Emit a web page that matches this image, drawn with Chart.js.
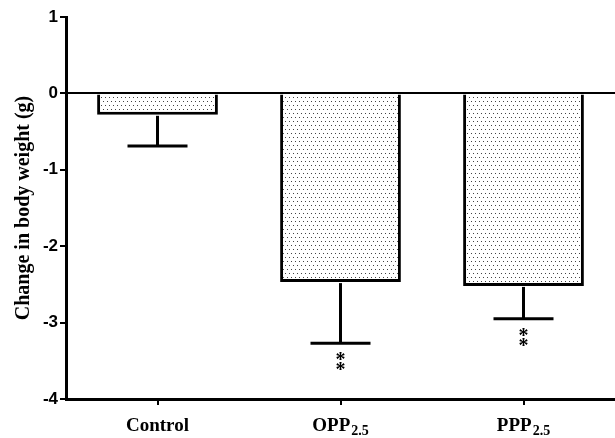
<!DOCTYPE html>
<html><head><meta charset="utf-8">
<script src="https://cdn.jsdelivr.net/npm/chart.js@4"></script>
<style>html,body{margin:0;padding:0;background:#fff}#wrap{width:615px;height:438px;position:relative}</style>
</head><body><div id="wrap"><canvas id="c"></canvas></div>
<script>
const categories = ['Control', 'OPP', 'PPP'];
const subscripts = ['', '2.5', '2.5'];
const means = [-0.28, -2.47, -2.52];
const errors = [0.41, 0.80, 0.43];
const significance = ['', '**', '**'];
const yTicks = [1, 0, -1, -2, -3, -4];

function makePattern() {
  const p = document.createElement('canvas');
  p.width = 8; p.height = 8;
  const g = p.getContext('2d');
  g.fillStyle = '#fff'; g.fillRect(0, 0, 8, 8);
  g.fillStyle = '#444';
  g.fillRect(1, 1, 1, 1); g.fillRect(5, 1, 1, 1);
  g.fillRect(3, 5, 1, 1); g.fillRect(7, 5, 1, 1);
  return document.getElementById('c').getContext('2d').createPattern(p, 'repeat');
}

const extrasPlugin = {
  id: 'extras',
  afterDatasetsDraw(chart) {
    const ctx = chart.ctx, xs = chart.scales.x, ys = chart.scales.y;
    ctx.save();
    ctx.strokeStyle = '#000'; ctx.lineWidth = 3; ctx.lineCap = 'butt';
    means.forEach((m, i) => {
      const x = xs.getPixelForValue(i);
      const y0 = ys.getPixelForValue(m);
      const y1 = ys.getPixelForValue(m - errors[i]);
      ctx.beginPath(); ctx.moveTo(x, y0 + 1); ctx.lineTo(x, y1); ctx.stroke();
      ctx.beginPath(); ctx.moveTo(x - 30, y1); ctx.lineTo(x + 30, y1); ctx.stroke();
      if (significance[i]) {
        ctx.fillStyle = '#000';
        ctx.font = 'bold 20px "Liberation Serif"';
        ctx.textAlign = 'center'; ctx.textBaseline = 'top';
        ctx.fillText('*', x, y1 + 8);
        ctx.fillText('*', x, y1 + 18);
      }
    });
    ctx.fillStyle = '#000'; ctx.textBaseline = 'alphabetic'; ctx.textAlign = 'left';
    categories.forEach((c, i) => {
      const x = xs.getPixelForValue(i);
      ctx.font = 'bold 19px "Liberation Serif"';
      const w1 = ctx.measureText(c).width;
      ctx.font = 'bold 14px "Liberation Serif"';
      const w2 = subscripts[i] ? ctx.measureText(subscripts[i]).width + 1 : 0;
      const start = x - (w1 + w2) / 2;
      ctx.font = 'bold 19px "Liberation Serif"';
      ctx.fillText(c, start, 431);
      if (subscripts[i]) {
        ctx.font = 'bold 14px "Liberation Serif"';
        ctx.fillText(subscripts[i], start + w1 + 1, 435);
      }
    });
    ctx.restore();
  }
};

new Chart(document.getElementById('c'), {
  type: 'bar',
  data: {
    labels: categories,
    datasets: [{
      data: means,
      backgroundColor: makePattern(),
      borderColor: '#000',
      borderWidth: 3,
      borderSkipped: 'start',
      barPercentage: 0.66,
      categoryPercentage: 1
    }]
  },
  options: {
    responsive: true,
    maintainAspectRatio: false,
    animation: false,
    layout: { padding: { top: 17, right: 0, bottom: 0, left: 0 } },
    plugins: { legend: { display: false }, tooltip: { enabled: false } },
    scales: {
      x: {
        offset: true,
        grid: { display: true, drawOnChartArea: false, drawTicks: true, tickLength: 6, color: '#000', lineWidth: 2, offset: false },
        border: { display: true, color: '#000', width: 3 },
        ticks: { callback: () => '', padding: 0 },
        afterFit(s) { s.height = 39; }
      },
      y: {
        min: -4, max: 1,
        afterBuildTicks(s) { s.ticks = yTicks.map(v => ({ value: v })); },
        grid: {
          color: c => (c.tick && c.tick.value === 0) ? '#000' : 'rgba(0,0,0,0)',
          lineWidth: 2,
          tickColor: '#000', tickLength: 6, drawTicks: true
        },
        border: { display: true, color: '#000', width: 3 },
        ticks: { color: '#000', font: { family: '"Liberation Sans"', weight: 'bold', size: 17 }, padding: 2 },
        title: { display: true, text: 'Change in body weight (g)', color: '#000', font: { family: '"Liberation Serif"', weight: 'bold', size: 20 }, padding: { top: 12, bottom: 0 } },
        afterFit(s) { s.width = 66; }
      }
    }
  },
  plugins: [extrasPlugin]
});
</script></body></html>
